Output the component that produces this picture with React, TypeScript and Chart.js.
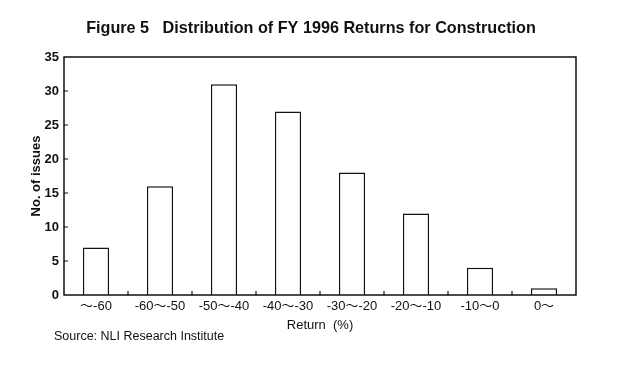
import React, { useEffect, useRef } from "react";
import { Chart, registerables } from "chart.js";

Chart.register(...registerables);

const categories = ["～-60", "-60～-50", "-50～-40", "-40～-30", "-30～-20", "-20～-10", "-10～0", "0～"];
const issues = [7, 16, 31, 27, 18, 12, 4, 1];
const yTicks = [0, 5, 10, 15, 20, 25, 30, 35];

const FONT = "'Liberation Sans', Arial, 'Noto Sans CJK JP', sans-serif";

const decorPlugin = {
  id: "decor",
  afterDraw(chart: any) {
    const { ctx, chartArea } = chart;
    const { left, right, top, bottom } = chartArea;
    const x = chart.scales.x;
    const y = chart.scales.y;
    ctx.save();
    ctx.strokeStyle = "#111";
    ctx.lineWidth = 1.5;
    ctx.strokeRect(left, top, right - left, bottom - top);
    ctx.lineWidth = 1.2;
    ctx.beginPath();
    yTicks.forEach((v) => {
      if (v === 0 || v === 35) return;
      const py = y.getPixelForValue(v);
      ctx.moveTo(left, py);
      ctx.lineTo(left + 4, py);
    });
    for (let i = 0; i < categories.length - 1; i++) {
      const px = (x.getPixelForValue(i) + x.getPixelForValue(i + 1)) / 2;
      ctx.moveTo(px, bottom);
      ctx.lineTo(px, bottom - 4);
    }
    ctx.stroke();

    ctx.fillStyle = "#111";
    ctx.font = `bold 16.2px ${FONT}`;
    ctx.textAlign = "center";
    ctx.textBaseline = "middle";
    ctx.fillText("Figure 5   Distribution of FY 1996 Returns for Construction", 311, 29);

    ctx.font = `12.5px ${FONT}`;
    ctx.textAlign = "left";
    ctx.fillText("Source: NLI Research Institute", 54, 337);
    ctx.restore();
  },
};

export default function App() {
  const ref = useRef<HTMLCanvasElement>(null);
  useEffect(() => {
    if (!ref.current) return;
    const chart = new Chart(ref.current, {
      type: "bar",
      data: {
        labels: categories,
        datasets: [
          {
            data: issues,
            backgroundColor: "#ffffff",
            borderColor: "#111111",
            borderWidth: 1.5,
            categoryPercentage: 1,
            barPercentage: 0.41,
          },
        ],
      },
      options: {
        animation: false,
        responsive: false,
        events: [],
        layout: { padding: { left: 0, right: 63, top: 57, bottom: 42 } },
        plugins: { legend: { display: false }, tooltip: { enabled: false }, title: { display: false } },
        scales: {
          x: {
            grid: { display: false, drawTicks: false },
            border: { display: false },
            ticks: { color: "#111", font: { family: FONT, size: 13 }, padding: 4, maxRotation: 0, autoSkip: false },
            title: { display: true, text: "Return  (%)", color: "#111", font: { family: FONT, size: 13 }, padding: { top: 0, bottom: 2 } },
            afterFit: (s: any) => { s.height = 40; },
          },
          y: {
            min: 0,
            max: 35,
            grid: { display: false, drawTicks: false },
            border: { display: false },
            afterBuildTicks: (s: any) => { s.ticks = yTicks.map((v) => ({ value: v })); },
            ticks: { color: "#111", font: { family: FONT, size: 13, weight: "bold" }, padding: 5 },
            title: { display: true, text: "No. of issues", color: "#111", font: { family: FONT, size: 13, weight: "bold" }, padding: { top: 29, bottom: 0 } },
            afterFit: (s: any) => { s.width = 64; },
          },
        },
      },
      plugins: [decorPlugin],
    });
    return () => chart.destroy();
  }, []);
  return (
    <div style={{ position: "absolute", left: 0, top: 0, width: 639, height: 377, background: "#fff" }}>
      <canvas ref={ref} width={639} height={377} />
    </div>
  );
}
